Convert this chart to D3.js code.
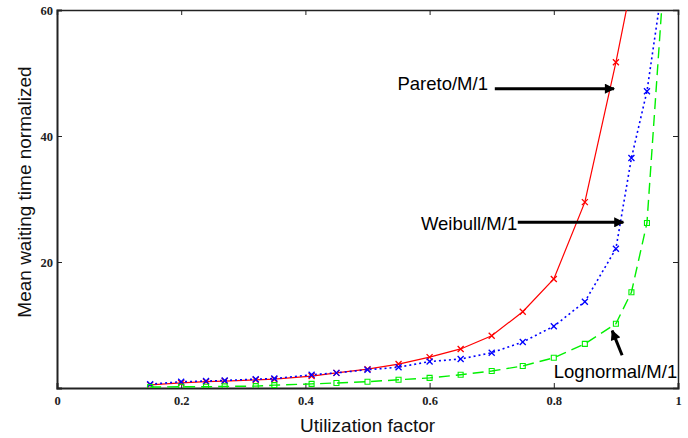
<!DOCTYPE html>
<html>
<head>
<meta charset="utf-8">
<script src="https://cdn.jsdelivr.net/npm/d3@7"></script>
<style>
  body { margin: 0; background: #fff; }
  svg { display: block; }
</style>
</head>
<body>
<script>

// utilization factor (shared x values)
var rho = [0.15, 0.2, 0.24, 0.27, 0.32, 0.35, 0.41, 0.45, 0.5, 0.55, 0.6, 0.65, 0.7, 0.75, 0.8, 0.85, 0.9, 0.925, 0.95, 0.975];

// mean waiting time, normalized
var pareto    = [0.5, 0.8, 1.0, 1.1, 1.3, 1.4, 1.9, 2.4, 3.0, 3.8, 4.9, 6.2, 8.3, 12.1, 17.3, 29.5, 51.7, 64];
var weibull   = [0.6, 1.0, 1.1, 1.2, 1.4, 1.5, 2.1, 2.4, 2.9, 3.3, 4.2, 4.6, 5.6, 7.3, 9.8, 13.7, 22.1, 36.5, 47.1, 64];
var lognormal = [0.15, 0.2, 0.2, 0.25, 0.3, 0.45, 0.65, 0.8, 1.0, 1.3, 1.6, 2.1, 2.7, 3.5, 4.8, 7.0, 10.2, 15.2, 26.2, 62];

var xTicks = [0, 0.2, 0.4, 0.6, 0.8, 1];
var xTickLabels = ["0", "0.2", "0.4", "0.6", "0.8", "1"];
var yTicks = [20, 40, 60];
var yTickLabels = ["20", "40", "60"];

var margin = {top: 10, right: 10, bottom: 50, left: 57},
    width = 688 - margin.left - margin.right,
    height = 438 - margin.top - margin.bottom;

var svg = d3.select("body").append("svg")
    .attr("width", 688)
    .attr("height", 438);

var g = svg.append("g")
    .attr("transform", "translate(" + margin.left + "," + margin.top + ")");

var x = d3.scaleLinear().domain([0, 1]).range([0, width]);
var y = d3.scaleLinear().domain([0, 60]).range([height, 0]);

g.append("clipPath").attr("id", "plotclip")
  .append("rect")
    .attr("width", width)
    .attr("height", height);

// frame + inward ticks
var axisColor = "#222";
var tickFont = "'Liberation Serif', 'Times New Roman', serif";

g.append("g")
    .attr("transform", "translate(0," + height + ")")
    .call(d3.axisBottom(x).tickValues(xTicks).tickSize(-5).tickPadding(8)
      .tickFormat(function(d, i) { return xTickLabels[i]; }))
    .call(function(a) {
      a.select(".domain").attr("stroke", axisColor).attr("stroke-width", 2);
      a.selectAll("text").attr("font-family", tickFont).attr("font-weight", "bold")
        .attr("font-size", 12.5).attr("fill", "#222");
    });

g.append("g")
    .call(d3.axisTop(x).tickValues(xTicks).tickSize(-5).tickFormat(""))
    .call(function(a) { a.select(".domain").attr("stroke", axisColor).attr("stroke-width", 1.5); });

g.append("g")
    .call(d3.axisLeft(y).tickValues(yTicks).tickSize(-5).tickPadding(4)
      .tickFormat(function(d, i) { return yTickLabels[i]; }))
    .call(function(a) {
      a.select(".domain").attr("stroke", axisColor).attr("stroke-width", 2);
      a.selectAll("text").attr("font-family", tickFont).attr("font-weight", "bold")
        .attr("font-size", 12.5).attr("fill", "#222");
    });

g.append("g")
    .attr("transform", "translate(" + width + ",0)")
    .call(d3.axisRight(y).tickValues(yTicks).tickSize(-5).tickFormat(""))
    .call(function(a) { a.select(".domain").attr("stroke", axisColor).attr("stroke-width", 1.5); });

g.selectAll(".tick line").attr("stroke", axisColor);

// series
var series = [
  {name: "Pareto", values: pareto, color: "#ff0000", dash: null, width: 1.2, marker: "x"},
  {name: "Weibull", values: weibull, color: "#0000ff", dash: "2,3", width: 1.6, marker: "x"},
  {name: "Lognormal", values: lognormal, color: "#00f000", dash: "11,6", width: 1.4, marker: "sq"}
];

var line = d3.line()
    .x(function(d) { return x(d[0]); })
    .y(function(d) { return y(d[1]); });

var plot = g.append("g").attr("clip-path", "url(#plotclip)");

series.forEach(function(s) {
  var pts = s.values.map(function(v, i) { return [rho[i], v]; });

  plot.append("path")
      .datum(pts)
      .attr("fill", "none")
      .attr("stroke", s.color)
      .attr("stroke-width", s.width)
      .attr("stroke-dasharray", s.dash)
      .attr("d", line);

  plot.append("g").selectAll("path")
      .data(pts.filter(function(d) { return d[1] <= 60; }))
      .enter().append("path")
      .attr("fill", "none")
      .attr("stroke", s.color)
      .attr("stroke-width", s.marker == "x" ? 1.3 : 1.1)
      .attr("transform", function(d) { return "translate(" + x(d[0]) + "," + y(d[1]) + ")"; })
      .attr("d", s.marker == "x" ? "M-3,-3L3,3M-3,3L3,-3" : "M-2.5,-2.5H2.5V2.5H-2.5Z");
});

// annotations (data coordinates)
var notes = [
  {text: "Pareto/M/1", tx: 0.694, ty: 47.3, anchor: "end", from: [0.705, 47.5], to: [0.897, 47.5]},
  {text: "Weibull/M/1", tx: 0.586, ty: 25.1, anchor: "start", from: [0.742, 26.3], to: [0.912, 26.3]},
  {text: "Lognormal/M/1", tx: 0.8, ty: 1.6, anchor: "start", from: [0.91, 5.2], to: [0.894, 9.1]}
];

svg.append("defs").append("marker")
    .attr("id", "arrowhead")
    .attr("viewBox", "0 0 10 10")
    .attr("refX", 9)
    .attr("refY", 5)
    .attr("markerWidth", 4)
    .attr("markerHeight", 3.4)
    .attr("markerUnits", "strokeWidth")
    .attr("orient", "auto")
  .append("path")
    .attr("d", "M0,0L10,5L0,10Z")
    .attr("fill", "#000");

notes.forEach(function(n) {
  g.append("line")
      .attr("x1", x(n.from[0])).attr("y1", y(n.from[1]))
      .attr("x2", x(n.to[0])).attr("y2", y(n.to[1]))
      .attr("stroke", "#000")
      .attr("stroke-width", 3)
      .attr("marker-end", "url(#arrowhead)");

  g.append("text")
      .attr("x", x(n.tx))
      .attr("y", y(n.ty))
      .attr("text-anchor", n.anchor)
      .attr("font-family", "'Liberation Sans', Arial, sans-serif")
      .attr("font-size", 18.5)
      .attr("fill", "#000")
      .text(n.text);
});

// axis titles
svg.append("text")
    .attr("x", margin.left + x(0.5))
    .attr("y", 432)
    .attr("text-anchor", "middle")
    .attr("font-family", "'Liberation Sans', Arial, sans-serif")
    .attr("font-size", 19)
    .attr("fill", "#111")
    .text("Utilization factor");

svg.append("text")
    .attr("transform", "translate(31,192) rotate(-90)")
    .attr("text-anchor", "middle")
    .attr("font-family", "'Liberation Sans', Arial, sans-serif")
    .attr("font-size", 19)
    .attr("fill", "#111")
    .text("Mean waiting time normalized");

</script>
</body>
</html>
